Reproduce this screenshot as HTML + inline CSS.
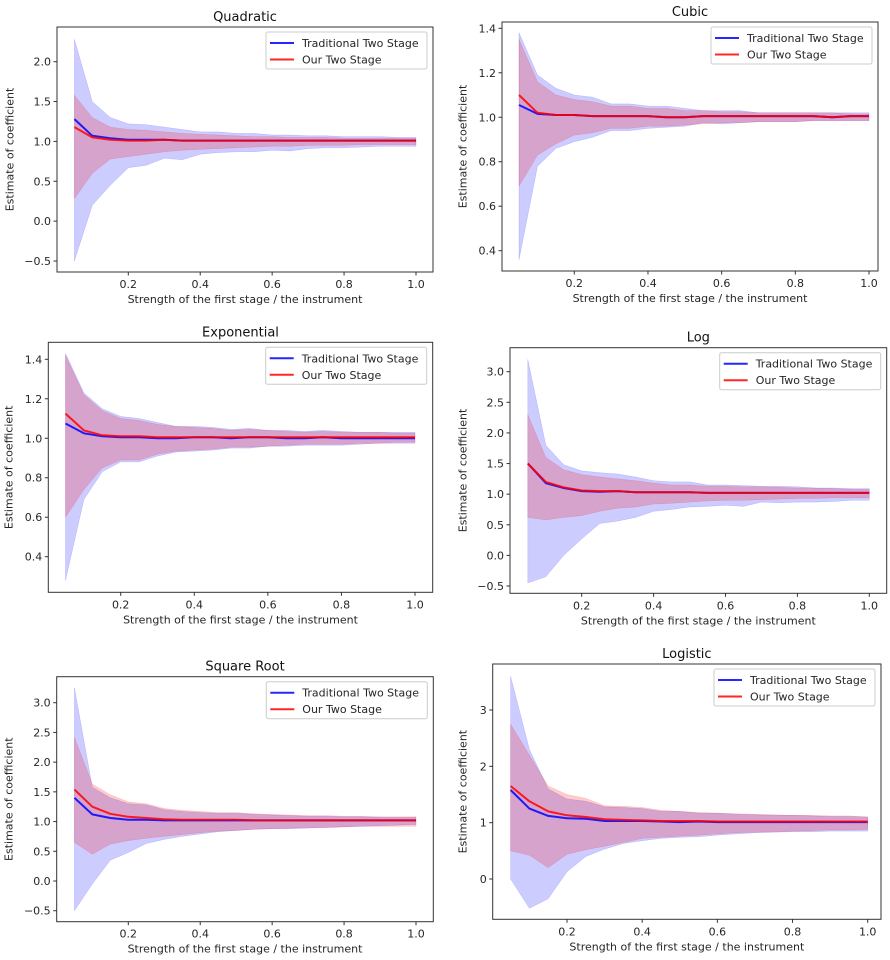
<!DOCTYPE html>
<html><head><meta charset="utf-8"><style>
html,body{margin:0;padding:0;background:#fff;}
svg{display:block;font-family:"DejaVu Sans","Liberation Sans",sans-serif;}
</style></head><body>
<svg id="fig" width="890" height="960" viewBox="0 0 890 960" xmlns="http://www.w3.org/2000/svg"></svg>
<script>
const xValues = [0.05,0.1,0.15,0.2,0.25,0.3,0.35,0.4,0.45,0.5,0.55,0.6,0.65,0.7,0.75,0.8,0.85,0.9,0.95,1.0];
const xTicks = [0.2,0.4,0.6,0.8,1.0];
const xTickLabels = ["0.2","0.4","0.6","0.8","1.0"];

const quadTradMean = [1.28,1.07,1.04,1.02,1.02,1.02,1.01,1.01,1.01,1.01,1.01,1.01,1.01,1.01,1.01,1.01,1.01,1.01,1.01,1.01];
const quadOurMean = [1.18,1.05,1.02,1.01,1.01,1.02,1.01,1.01,1.01,1.01,1.01,1.01,1.01,1.01,1.01,1.01,1.01,1.01,1.01,1.01];
const quadTradHi = [2.28,1.5,1.3,1.22,1.21,1.18,1.15,1.12,1.12,1.1,1.1,1.08,1.08,1.07,1.07,1.06,1.06,1.06,1.05,1.05];
const quadTradLo = [-0.5,0.2,0.45,0.67,0.7,0.79,0.77,0.84,0.86,0.87,0.87,0.89,0.88,0.91,0.92,0.92,0.93,0.94,0.94,0.94];
const quadOurHi = [1.58,1.3,1.18,1.15,1.14,1.12,1.1,1.09,1.08,1.07,1.06,1.06,1.05,1.05,1.05,1.04,1.04,1.04,1.04,1.04];
const quadOurLo = [0.28,0.6,0.78,0.81,0.84,0.87,0.89,0.9,0.91,0.92,0.93,0.94,0.94,0.95,0.95,0.95,0.96,0.96,0.96,0.96];
const quadYTicks = [-0.5,0,0.5,1,1.5,2];
const quadYTickLabels = ["−0.5","0.0","0.5","1.0","1.5","2.0"];

const cubTradMean = [1.055,1.015,1.01,1.01,1.005,1.005,1.005,1.005,1.0,1.0,1.005,1.005,1.005,1.005,1.005,1.005,1.005,1.0,1.005,1.005];
const cubOurMean = [1.1,1.02,1.01,1.01,1.005,1.005,1.005,1.005,1.0,1.0,1.005,1.005,1.005,1.005,1.005,1.005,1.005,1.0,1.005,1.005];
const cubTradHi = [1.38,1.19,1.13,1.1,1.09,1.06,1.06,1.05,1.05,1.04,1.03,1.03,1.03,1.02,1.02,1.02,1.02,1.02,1.02,1.02];
const cubTradLo = [0.36,0.78,0.86,0.89,0.91,0.94,0.94,0.95,0.955,0.96,0.975,0.97,0.975,0.98,0.98,0.98,0.985,0.985,0.985,0.985];
const cubOurHi = [1.35,1.16,1.1,1.08,1.07,1.05,1.05,1.04,1.04,1.03,1.03,1.025,1.025,1.02,1.02,1.02,1.02,1.02,1.015,1.015];
const cubOurLo = [0.69,0.83,0.88,0.92,0.93,0.95,0.95,0.96,0.96,0.965,0.97,0.975,0.975,0.98,0.98,0.98,0.985,0.985,0.985,0.985];
const cubYTicks = [0.4,0.6,0.8,1.0,1.2,1.4];
const cubYTickLabels = ["0.4","0.6","0.8","1.0","1.2","1.4"];

const expTradMean = [1.075,1.025,1.01,1.005,1.005,1.0,1.0,1.005,1.005,1.0,1.005,1.005,1.0,1.0,1.005,1.0,1.0,1.0,1.0,1.0];
const expOurMean = [1.125,1.04,1.015,1.01,1.01,1.005,1.005,1.005,1.005,1.005,1.005,1.005,1.005,1.005,1.005,1.005,1.005,1.005,1.005,1.005];
const expTradHi = [1.43,1.23,1.15,1.11,1.1,1.08,1.06,1.06,1.055,1.045,1.05,1.04,1.04,1.035,1.04,1.035,1.03,1.03,1.03,1.03];
const expTradLo = [0.28,0.69,0.83,0.88,0.88,0.91,0.93,0.935,0.94,0.95,0.95,0.96,0.96,0.965,0.965,0.965,0.97,0.975,0.975,0.975];
const expOurHi = [1.42,1.22,1.14,1.1,1.09,1.07,1.06,1.055,1.05,1.04,1.045,1.04,1.035,1.03,1.035,1.03,1.03,1.03,1.025,1.025];
const expOurLo = [0.6,0.74,0.85,0.89,0.89,0.92,0.935,0.94,0.945,0.955,0.955,0.96,0.965,0.97,0.97,0.97,0.975,0.975,0.98,0.98];
const expYTicks = [0.4,0.6,0.8,1.0,1.2,1.4];
const expYTickLabels = ["0.4","0.6","0.8","1.0","1.2","1.4"];

const logTradMean = [1.5,1.18,1.1,1.05,1.04,1.05,1.03,1.03,1.03,1.03,1.02,1.02,1.02,1.02,1.02,1.02,1.02,1.02,1.02,1.02];
const logOurMean = [1.5,1.2,1.11,1.06,1.05,1.05,1.03,1.03,1.03,1.03,1.02,1.02,1.02,1.02,1.02,1.02,1.02,1.02,1.02,1.02];
const logTradHi = [3.2,1.8,1.48,1.38,1.35,1.33,1.28,1.22,1.2,1.2,1.15,1.15,1.14,1.13,1.13,1.12,1.1,1.1,1.09,1.09];
const logTradLo = [-0.45,-0.35,0.0,0.27,0.52,0.56,0.62,0.72,0.75,0.79,0.8,0.82,0.8,0.87,0.86,0.87,0.87,0.88,0.9,0.9];
const logOurHi = [2.3,1.6,1.4,1.32,1.28,1.25,1.22,1.18,1.15,1.15,1.13,1.13,1.12,1.12,1.11,1.1,1.1,1.09,1.08,1.08];
const logOurLo = [0.62,0.58,0.62,0.65,0.72,0.77,0.79,0.84,0.85,0.87,0.89,0.9,0.9,0.91,0.92,0.93,0.93,0.94,0.94,0.94];
const logYTicks = [-0.5,0,0.5,1,1.5,2,2.5,3];
const logYTickLabels = ["−0.5","0.0","0.5","1.0","1.5","2.0","2.5","3.0"];

const sqrtTradMean = [1.4,1.12,1.06,1.03,1.03,1.02,1.02,1.02,1.02,1.02,1.02,1.02,1.02,1.02,1.02,1.02,1.02,1.02,1.02,1.02];
const sqrtOurMean = [1.54,1.25,1.13,1.08,1.06,1.04,1.03,1.03,1.03,1.03,1.02,1.02,1.02,1.02,1.02,1.02,1.02,1.02,1.02,1.02];
const sqrtTradHi = [3.25,1.58,1.4,1.3,1.28,1.2,1.17,1.15,1.14,1.14,1.12,1.11,1.1,1.09,1.09,1.08,1.08,1.07,1.07,1.07];
const sqrtTradLo = [-0.5,-0.05,0.35,0.48,0.63,0.7,0.75,0.79,0.83,0.85,0.87,0.88,0.88,0.89,0.9,0.91,0.92,0.93,0.94,0.95];
const sqrtOurHi = [2.42,1.63,1.45,1.33,1.3,1.22,1.19,1.17,1.15,1.15,1.13,1.12,1.11,1.1,1.1,1.09,1.09,1.08,1.08,1.08];
const sqrtOurLo = [0.65,0.45,0.62,0.68,0.72,0.75,0.78,0.81,0.84,0.85,0.87,0.88,0.89,0.9,0.9,0.91,0.92,0.92,0.92,0.92];
const sqrtYTicks = [-0.5,0,0.5,1,1.5,2,2.5,3];
const sqrtYTickLabels = ["−0.5","0.0","0.5","1.0","1.5","2.0","2.5","3.0"];

const lgtTradMean = [1.58,1.25,1.12,1.08,1.07,1.03,1.03,1.03,1.02,1.01,1.02,1.01,1.01,1.01,1.01,1.01,1.01,1.01,1.01,1.01];
const lgtOurMean = [1.65,1.38,1.2,1.13,1.1,1.06,1.05,1.04,1.03,1.03,1.03,1.02,1.02,1.02,1.02,1.02,1.02,1.02,1.02,1.02];
const lgtTradHi = [3.6,2.3,1.6,1.42,1.38,1.28,1.27,1.25,1.2,1.2,1.17,1.17,1.15,1.14,1.13,1.13,1.12,1.11,1.11,1.1];
const lgtTradLo = [0.0,-0.52,-0.35,0.13,0.4,0.53,0.63,0.68,0.72,0.74,0.75,0.78,0.8,0.82,0.83,0.84,0.84,0.85,0.85,0.85];
const lgtOurHi = [2.75,2.2,1.65,1.5,1.43,1.3,1.29,1.27,1.22,1.2,1.18,1.17,1.16,1.15,1.14,1.13,1.13,1.12,1.12,1.1];
const lgtOurLo = [0.5,0.42,0.2,0.44,0.52,0.58,0.65,0.72,0.74,0.76,0.78,0.8,0.82,0.83,0.84,0.85,0.86,0.87,0.87,0.88];
const lgtYTicks = [0,1,2,3];
const lgtYTickLabels = ["0","1","2","3"];

const NS = "http://www.w3.org/2000/svg";
const fig = document.getElementById("fig");
function mk(tag, attrs, parent) {
  const e = document.createElementNS(NS, tag);
  for (const k in attrs) e.setAttribute(k, attrs[k]);
  (parent || fig).appendChild(e);
  return e;
}

// layout: box + two calibration points per axis (pixel positions of tick values)
const panels = [
  {slug:"quadratic", title:"Quadratic", L:57, R:433, T:27, B:272, xa:[0.2,128.3], xb:[1.0,416], ya:[2.0,61.7], yb:[-0.5,261], ylx:10, tm:quadTradMean, om:quadOurMean, th:quadTradHi, tl:quadTradLo, oh:quadOurHi, ol:quadOurLo, yt:quadYTicks, ytl:quadYTickLabels},
  {slug:"cubic", title:"Cubic", L:502, R:878, T:22, B:271, xa:[0.2,574.3], xb:[1.0,869], ya:[1.4,28.3], yb:[0.4,250.7], ylx:463, tm:cubTradMean, om:cubOurMean, th:cubTradHi, tl:cubTradLo, oh:cubOurHi, ol:cubOurLo, yt:cubYTicks, ytl:cubYTickLabels},
  {slug:"exponential", title:"Exponential", L:48.3, R:432.7, T:342.3, B:592.3, xa:[0.2,120.7], xb:[1.0,415], ya:[1.4,359.3], yb:[0.4,556.7], ylx:9, tm:expTradMean, om:expOurMean, th:expTradHi, tl:expTradLo, oh:expOurHi, ol:expOurLo, yt:expYTicks, ytl:expYTickLabels},
  {slug:"log", title:"Log", L:510, R:886.7, T:347.7, B:593.3, xa:[0.2,581.7], xb:[1.0,869.3], ya:[3.0,371.7], yb:[-0.5,586], ylx:463, tm:logTradMean, om:logOurMean, th:logTradHi, tl:logTradLo, oh:logOurHi, ol:logOurLo, yt:logYTicks, ytl:logYTickLabels},
  {slug:"square-root", title:"Square Root", L:56.7, R:433.3, T:676.7, B:921.7, xa:[0.2,128.3], xb:[1.0,416], ya:[3.0,702.7], yb:[-0.5,910.7], ylx:9, tm:sqrtTradMean, om:sqrtOurMean, th:sqrtTradHi, tl:sqrtTradLo, oh:sqrtOurHi, ol:sqrtOurLo, yt:sqrtYTicks, ytl:sqrtYTickLabels},
  {slug:"logistic", title:"Logistic", L:492.7, R:881, T:664, B:919.3, xa:[0.2,567], xb:[1.0,867.7], ya:[3,710], yb:[0,879], ylx:463, tm:lgtTradMean, om:lgtOurMean, th:lgtTradHi, tl:lgtTradLo, oh:lgtOurHi, ol:lgtOurLo, yt:lgtYTicks, ytl:lgtYTickLabels}
];

panels.forEach(p => {
  const g = mk("g", {});
  
  
  const sx = v => p.xa[1] + (v - p.xa[0]) * (p.xb[1] - p.xa[1]) / (p.xb[0] - p.xa[0]);
  const sy = v => p.ya[1] + (v - p.ya[0]) * (p.yb[1] - p.ya[1]) / (p.yb[0] - p.ya[0]);
  const cid = "clip-" + p.slug;
  const cp = mk("clipPath", {id: cid}, g);
  mk("rect", {x:p.L, y:p.T, width:p.R-p.L, height:p.B-p.T}, cp);
  const plot = mk("g", {"clip-path":"url(#"+cid+")"}, g);

  function band(hi, lo, fill, name) {
    let d = "";
    xValues.forEach((x,i) => { d += (i ? "L" : "M") + sx(x).toFixed(1) + "," + sy(hi[i]).toFixed(1); });
    for (let i = xValues.length-1; i >= 0; i--) d += "L" + sx(xValues[i]).toFixed(1) + "," + sy(lo[i]).toFixed(1);
    const e = mk("path", {d: d + "Z", fill: fill, stroke: fill, "stroke-width": 0.5}, plot);
    
    
  }
  function line(vals, color, name) {
    const pts = xValues.map((x,i) => sx(x).toFixed(1) + "," + sy(vals[i]).toFixed(1)).join(" ");
    const e = mk("polyline", {points: pts, fill: "none", stroke: color, "stroke-width": 2, "stroke-linejoin":"round"}, plot);
    
    
  }
  band(p.th, p.tl, "rgba(0,0,255,0.2)", p.slug + "-traditional-band");
  band(p.oh, p.ol, "rgba(255,0,0,0.2)", p.slug + "-our-band");
  line(p.tm, "rgba(0,0,255,0.85)", p.slug + "-traditional-line");
  line(p.om, "rgba(255,0,0,0.85)", p.slug + "-our-line");

  const frame = mk("rect", {x:p.L, y:p.T, width:p.R-p.L, height:p.B-p.T, fill:"none", stroke:"#333", "stroke-width":1}, g);
  
  

  xTicks.forEach((v,i) => {
    const x = sx(v);
    mk("line", {x1:x, x2:x, y1:p.B, y2:p.B+3.5, stroke:"#333"}, g);
    const t = mk("text", {x:x, y:p.B+16, "text-anchor":"middle", "font-size":11, fill:"#262626"}, g);
    t.textContent = xTickLabels[i];
    
    
  });
  p.yt.forEach((v,i) => {
    const y = sy(v);
    mk("line", {x1:p.L-3.5, x2:p.L, y1:y, y2:y, stroke:"#333"}, g);
    const t = mk("text", {x:p.L-6, y:y+4, "text-anchor":"end", "font-size":11, fill:"#262626"}, g);
    t.textContent = p.ytl[i];
    
    
  });
  const ti = mk("text", {x:(p.L+p.R)/2, y:p.T-6, "text-anchor":"middle", "font-size":13, fill:"#111"}, g);
  ti.textContent = p.title;
  
  
  const xl = mk("text", {x:(p.L+p.R)/2, y:p.B+31, "text-anchor":"middle", "font-size":11, fill:"#262626"}, g);
  xl.textContent = "Strength of the first stage / the instrument";
  
  
  const yc = (p.T+p.B)/2;
  const yl = mk("text", {x:p.ylx, y:yc, "text-anchor":"middle", "font-size":11, fill:"#262626", transform:"rotate(-90 "+p.ylx+" "+yc+")", "dominant-baseline":"central"}, g);
  yl.textContent = "Estimate of coefficient";
  
  

  // legend
  const lg = mk("g", {}, g);
  
  
  const lw = 161, lh = 37, lx = p.R - 6 - lw, ly = p.T + 5;
  mk("rect", {x:lx, y:ly, width:lw, height:lh, rx:2, fill:"rgba(255,255,255,0.85)", stroke:"#ccc", "stroke-width":1}, lg);
  [["Traditional Two Stage","rgba(0,0,255,0.85)"],["Our Two Stage","rgba(255,0,0,0.85)"]].forEach((e,i) => {
    const yy = ly + 11 + i*16.5;
    const ent = mk("g", {}, lg);
    
    
    mk("line", {x1:lx+4, x2:lx+28, y1:yy, y2:yy, stroke:e[1], "stroke-width":2}, ent);
    const t = mk("text", {x:lx+36, y:yy+4, "font-size":11, fill:"#262626"}, ent);
    t.textContent = e[0];
  });
});
</script>
</body></html>
